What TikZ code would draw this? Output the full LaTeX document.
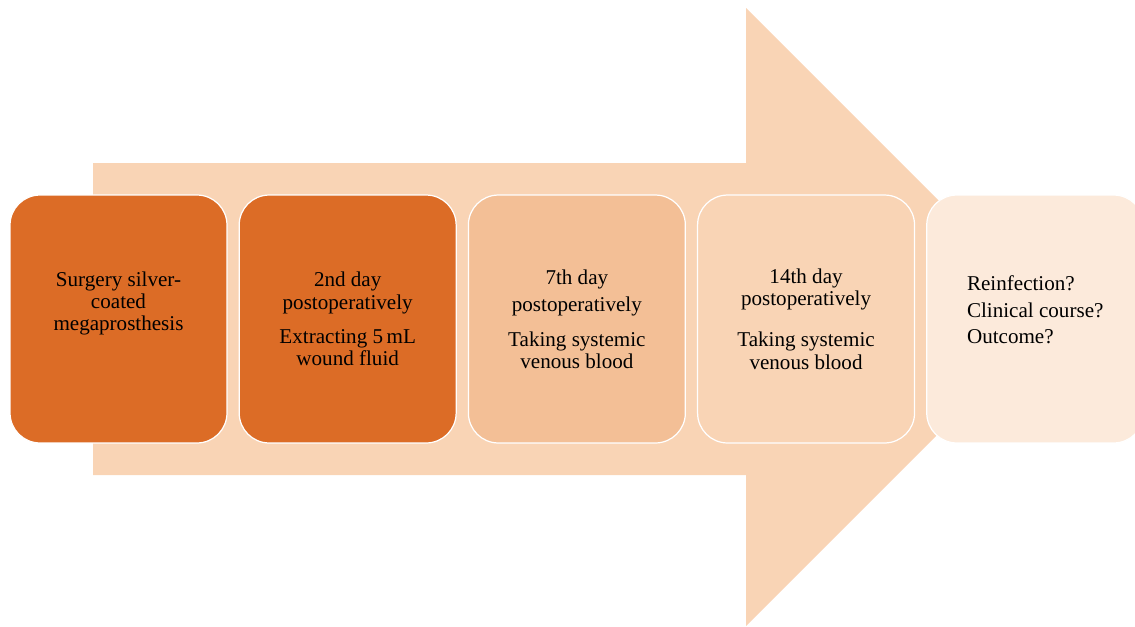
\documentclass[tikz,border=0pt]{standalone}
\usepackage{fontspec}
\setmainfont{Liberation Serif}
\usepackage{tikz}
\usetikzlibrary{positioning}
\definecolor{myorange}{RGB}{220,108,38}
\definecolor{mypeach}{RGB}{249,212,181}
\definecolor{mytan}{RGB}{243,191,150}
\definecolor{mycream}{RGB}{252,234,219}
\tikzstyle{stage}=[draw=white,line width=0.7pt,rounded corners=0.6cm,minimum width=4.34cm,minimum height=4.96cm,inner sep=2pt,align=center,font=\fontsize{12}{12.6}\selectfont]

\begin{document}
\begin{tikzpicture}[x=0.02cm,y=-0.02cm]
\useasboundingbox (0,0) rectangle (1135,626);
% big arrow behind the boxes
\fill[mypeach] (93,163) -- (746,163) -- (746,8) -- (1055,317) -- (746,626) -- (746,475) -- (93,475) -- cycle;
\node [stage,fill=myorange] (s1) at (118.5,319) {Surgery silver-\\coated\\megaprosthesis\\[8pt]~};
\node [stage,fill=myorange,right=0.22cm of s1] (s2) {2nd day\\postoperatively\\[7pt]Extracting 5\,mL\\wound fluid};
\node [stage,fill=mytan,right=0.22cm of s2] (s3) {7th day\\[3pt]postoperatively\\[7pt]Taking systemic\\venous blood};
\node [stage,fill=mypeach,right=0.22cm of s3] (s4) {14th day\\postoperatively\\[11pt]Taking systemic\\venous blood};
\node [stage,fill=mycream,right=0.22cm of s4,align=left] (s5) {Reinfection?\\[2.5pt]Clinical course?\\[2.5pt]Outcome?\\[-2pt]~};
\end{tikzpicture}
\end{document}
